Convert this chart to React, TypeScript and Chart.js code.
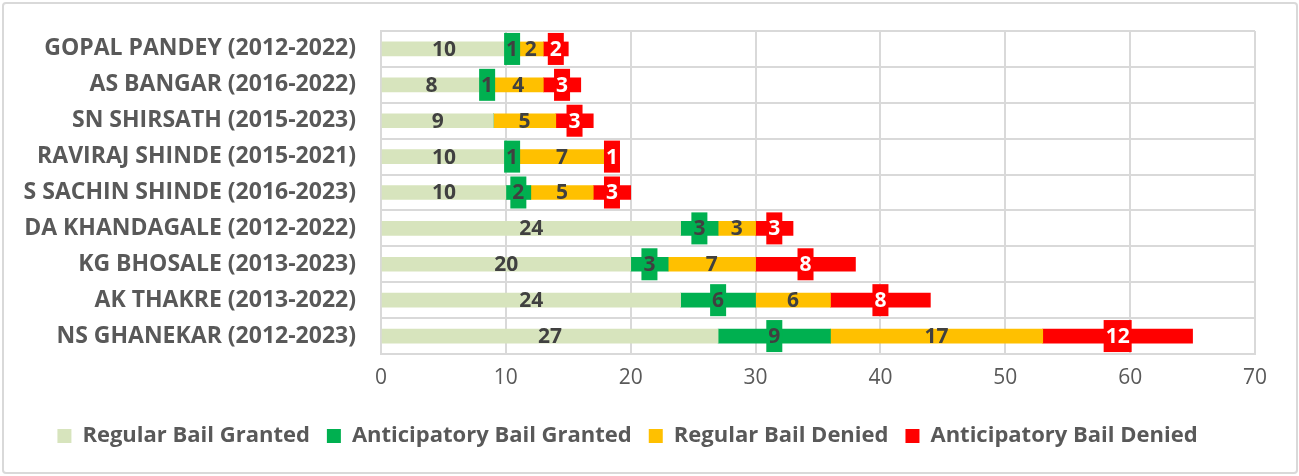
import React, { useEffect, useRef } from "react";
import { Chart, registerables } from "chart.js";

Chart.register(...registerables);

const categories = [
  "GOPAL PANDEY (2012-2022)",
  "AS BANGAR (2016-2022)",
  "SN SHIRSATH (2015-2023)",
  "RAVIRAJ SHINDE (2015-2021)",
  "S SACHIN SHINDE (2016-2023)",
  "DA KHANDAGALE (2012-2022)",
  "KG BHOSALE (2013-2023)",
  "AK THAKRE (2013-2022)",
  "NS GHANEKAR (2012-2023)",
];

const regularGranted = [10, 8, 9, 10, 10, 24, 20, 24, 27];
const anticipatoryGranted = [1, 1, 0, 1, 2, 3, 3, 6, 9];
const regularDenied = [2, 4, 5, 7, 5, 3, 7, 6, 17];
const anticipatoryDenied = [2, 3, 3, 1, 3, 3, 8, 8, 12];

const seriesNames = [
  "Regular Bail Granted",
  "Anticipatory Bail Granted",
  "Regular Bail Denied",
  "Anticipatory Bail Denied",
];
const seriesColors = ["#D7E4BD", "#00B050", "#FFC000", "#FF0000"];
const labelBoxed = [false, true, false, true];
const labelColors = ["#404040", "#404040", "#404040", "#FFFFFF"];

const FONT = "'Open Sans', sans-serif";

const labelPlugin = {
  id: "segmentLabels",
  afterDatasetsDraw(chart: any) {
    const ctx = chart.ctx;
    ctx.save();
    chart.data.datasets.forEach((ds: any, di: number) => {
      const meta = chart.getDatasetMeta(di);
      meta.data.forEach((el: any, i: number) => {
        const v = ds.data[i];
        if (!v) return;
        const p = el.getProps(["x", "y", "base"], true);
        const cx = (p.x + p.base) / 2;
        const txt = String(v);
        ctx.font = `bold 21px ${FONT}`;
        const tw = ctx.measureText(txt).width;
        if (labelBoxed[di]) {
          ctx.fillStyle = seriesColors[di];
          ctx.fillRect(cx - tw / 2 - 2, p.y - 16, tw + 4, 32);
        }
        ctx.fillStyle = labelColors[di];
        ctx.textAlign = "center";
        ctx.textBaseline = "middle";
        ctx.fillText(txt, cx, p.y + 1);
      });
    });
    ctx.restore();
  },
};

export default function App() {
  const ref = useRef<HTMLCanvasElement>(null);
  useEffect(() => {
    const values = [regularGranted, anticipatoryGranted, regularDenied, anticipatoryDenied];
    const chart = new Chart(ref.current!, {
      type: "bar",
      data: {
        labels: categories,
        datasets: values.map((d, i) => ({
          label: seriesNames[i],
          data: d,
          backgroundColor: seriesColors[i],
          borderWidth: 0,
          barThickness: 14,
        })),
      },
      options: {
        indexAxis: "y",
        animation: false,
        responsive: false,
        devicePixelRatio: 1,
        layout: { padding: { top: 31, right: 44, left: 0, bottom: 19 } },
        scales: {
          x: {
            stacked: true,
            min: 0,
            max: 70,
            ticks: {
              stepSize: 10,
              color: "#595959",
              font: { family: FONT, size: 21 },
              padding: 11,
            },
            grid: { color: "#D9D9D9", lineWidth: 2, drawTicks: false },
            border: { color: "#D9D9D9", width: 2 },
            afterFit: (s: any) => {
              s.height = 54;
            },
          },
          y: {
            stacked: true,
            ticks: {
              color: "#595959",
              font: { family: FONT, size: 23, weight: "bold" },
              padding: 25,
            },
            grid: { color: "#D9D9D9", lineWidth: 2, drawTicks: false },
            border: { color: "#D9D9D9", width: 2 },
            afterFit: (s: any) => {
              s.width = 381;
              s.paddingTop = 0;
              s.paddingBottom = 0;
            },
          },
        },
        plugins: {
          legend: {
            position: "bottom",
            labels: {
              boxWidth: 14,
              boxHeight: 14,
              padding: 17,
              color: "#595959",
              font: { family: FONT, size: 22, weight: "bold" },
            },
          },
          tooltip: { enabled: false },
        },
      },
      plugins: [labelPlugin],
    } as any);
    return () => chart.destroy();
  }, []);

  return (
    <div style={{ position: "absolute", left: 0, top: 0, width: 1299, height: 476, background: "#fff" }}>
      <canvas ref={ref} width={1299} height={476} style={{ position: "absolute", left: 0, top: 0 }} />
      <div
        style={{
          position: "absolute",
          left: 2,
          top: 2,
          width: 1292,
          height: 468,
          border: "2px solid #D9D9D9",
          borderRadius: 4,
          pointerEvents: "none",
        }}
      />
    </div>
  );
}
